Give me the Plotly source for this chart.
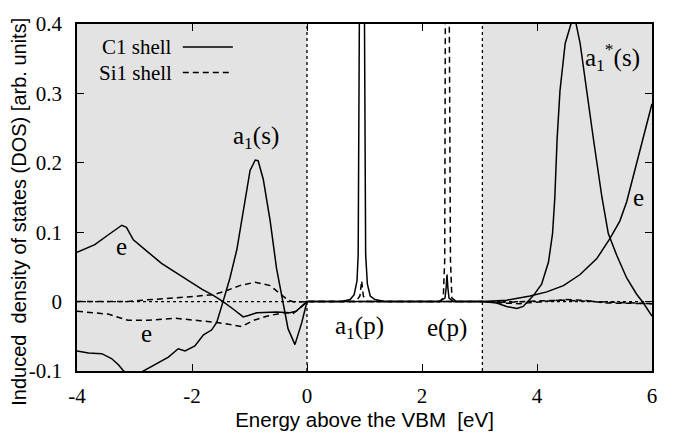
import plotly.graph_objects as go

# ---------------- data ----------------
# C1 shell, a1-symmetry curve (solid)
c1_a1_x = [-4.00, -3.80, -3.57, -3.40, -3.28, -3.19, -3.02, -2.85, -2.64, -2.41, -2.24, -2.12,
           -1.95, -1.80, -1.66, -1.57, -1.46, -1.34, -1.22, -1.11, -0.99, -0.90, -0.85, -0.76,
           -0.64, -0.53, -0.44, -0.33, -0.21, -0.09, 0.00,
           0.60, 0.75, 0.82, 0.87, 0.89, 0.91, 0.955, 1.00, 1.02, 1.05, 1.10, 1.18, 1.35,
           3.05, 3.30, 3.47, 3.65, 3.76, 3.94, 4.08, 4.20, 4.27, 4.31, 4.35, 4.40, 4.49,
           4.59, 4.635, 4.68, 4.75, 4.86, 4.98, 5.13, 5.24, 5.39, 5.56, 5.73, 5.85, 6.00]
c1_a1_y = [-0.071, -0.074, -0.075, -0.082, -0.091, -0.100, -0.108, -0.100, -0.091, -0.080, -0.068, -0.071,
           -0.064, -0.048, -0.041, -0.030, 0.000, 0.034, 0.075, 0.130, 0.189, 0.204, 0.203, 0.176,
           0.116, 0.048, 0.007, -0.039, -0.062, -0.030, 0.000,
           0.000, 0.003, 0.010, 0.030, 0.068, 0.400, 1.500, 0.400, 0.068, 0.025, 0.008, 0.003, 0.000,
           0.000, -0.002, -0.007, -0.010, -0.007, 0.009, 0.025, 0.057, 0.098, 0.150, 0.235, 0.304, 0.372,
           0.400, 0.430, 0.400, 0.372, 0.304, 0.235, 0.150, 0.098, 0.066, 0.034, 0.011, -0.002, -0.021]

# C1 shell, e-symmetry curve (solid)
c1_e_x = [-4.00, -3.69, -3.46, -3.22, -3.14, -3.02, -2.76, -2.53, -2.30, -2.06, -1.83, -1.63,
          -1.46, -1.28, -1.11, -1.02, -0.87, -0.53, -0.30, -0.19, 0.00,
          2.30, 2.40, 2.42, 2.435, 2.45, 2.47, 2.55,
          3.05, 3.47, 3.88, 4.17, 4.46, 4.75, 5.04, 5.27, 5.44, 5.56, 5.67, 5.85, 6.00]
c1_e_y = [0.071, 0.082, 0.096, 0.110, 0.107, 0.089, 0.071, 0.055, 0.043, 0.030, 0.018, 0.009,
          0.000, -0.011, -0.022, -0.020, -0.016, -0.015, -0.016, -0.014, 0.000,
          0.000, 0.005, 0.020, 0.039, 0.020, 0.005, 0.000,
          0.000, 0.002, 0.008, 0.014, 0.023, 0.039, 0.062, 0.091, 0.116, 0.144, 0.180, 0.235, 0.285]

# Si1 shell, a1-symmetry curve (dashed)
si_a1_x = [-4.00, -3.11, -2.87, -2.30, -2.03, -1.63, -1.46, -1.17, -0.90, -0.64, -0.47, -0.33,
           -0.21, 0.00, 0.85, 0.92, 0.95, 0.98, 1.05,
           3.05, 3.40, 3.70, 4.10, 4.50, 4.80, 5.20, 6.00]
si_a1_y = [0.000, 0.000, 0.002, 0.005, 0.007, 0.010, 0.014, 0.023, 0.028, 0.023, 0.011, 0.002,
           -0.001, 0.000, 0.000, 0.008, 0.030, 0.008, 0.000,
           0.000, -0.002, -0.003, 0.000, 0.003, 0.002, -0.002, -0.003]

# Si1 shell, e-symmetry curve (dashed)
si_e_x = [-4.00, -3.46, -3.11, -2.76, -2.30, -2.03, -1.57, -1.34, -1.14, -0.93, -0.70, -0.41,
          -0.24, -0.13, 0.00,
          2.30, 2.37, 2.395, 2.405, 2.44, 2.475, 2.495, 2.52, 2.60,
          3.05, 3.50, 4.00, 4.50, 5.00, 5.50, 6.00]
si_e_y = [-0.014, -0.018, -0.027, -0.027, -0.024, -0.026, -0.030, -0.033, -0.036, -0.027, -0.021, -0.016,
          -0.017, -0.010, 0.000,
          0.000, 0.005, 0.060, 0.400, 1.500, 0.400, 0.060, 0.005, 0.000,
          0.000, -0.001, 0.001, 0.002, 0.000, -0.002, -0.003]

VBM = 0.0
CBM = 3.05
x_range = [-4, 6]
y_range = [-0.1, 0.4]
x_ticks = [-4, -2, 0, 2, 4, 6]
x_ticklabels = ["-4", "-2", "0", "2", "4", "6"]
y_ticks = [-0.1, 0, 0.1, 0.2, 0.3, 0.4]
y_ticklabels = ["-0.1", "0", "0.1", "0.2", "0.3", "0.4"]

series_names = ["C1 shell", "Si1 shell"]

# peak labels: (text, x, y)
labels = [
    ("a<sub>1</sub>(s)", -0.885, 0.236),
    ("a<sub>1</sub>(p)", 0.92, -0.038),
    ("e(p)", 2.43, -0.038),
    ("a<sub>1</sub><sup>*</sup>(s)", 5.32, 0.352),
    ("e", -3.22, 0.080),
    ("e", -2.79, -0.046),
    ("e", 5.76, 0.150),
]

# ---------------- figure ----------------
SERIF = "Liberation Serif, Times New Roman, serif"
SANS = "Liberation Sans, Arial, sans-serif"

fig = go.Figure()
solid = dict(color="black", width=1.5)
dashed = dict(color="black", width=1.5, dash="6px,4px")

fig.add_trace(go.Scatter(x=c1_a1_x, y=c1_a1_y, mode="lines", line=solid,
                         name=series_names[0], legendgroup="c1", showlegend=False))
fig.add_trace(go.Scatter(x=c1_e_x, y=c1_e_y, mode="lines", line=solid,
                         name=series_names[0], legendgroup="c1", showlegend=False))
fig.add_trace(go.Scatter(x=si_a1_x, y=si_a1_y, mode="lines", line=dashed,
                         name=series_names[1], legendgroup="si", showlegend=False))
fig.add_trace(go.Scatter(x=si_e_x, y=si_e_y, mode="lines", line=dashed,
                         name=series_names[1], legendgroup="si", showlegend=False))

shapes = [
    dict(type="rect", xref="x", yref="y domain", x0=x_range[0], x1=VBM, y0=0, y1=1,
         fillcolor="#e3e3e3", line=dict(width=0), layer="below"),
    dict(type="rect", xref="x", yref="y domain", x0=CBM, x1=x_range[1], y0=0, y1=1,
         fillcolor="#e3e3e3", line=dict(width=0), layer="below"),
    dict(type="line", xref="x", yref="y domain", x0=VBM, x1=VBM, y0=0, y1=1,
         line=dict(color="black", width=1.3, dash="dot"), layer="below"),
    dict(type="line", xref="x", yref="y domain", x0=CBM, x1=CBM, y0=0, y1=1,
         line=dict(color="black", width=1.3, dash="dot"), layer="below"),
    dict(type="line", xref="x domain", yref="y", x0=0, x1=1, y0=0, y1=0,
         line=dict(color="black", width=1.3, dash="dot"), layer="below"),
    # legend samples
    dict(type="line", xref="paper", yref="paper", x0=0.184, x1=0.271, y0=0.934, y1=0.934,
         line=dict(color="black", width=1.5)),
    dict(type="line", xref="paper", yref="paper", x0=0.184, x1=0.271, y0=0.86, y1=0.86,
         line=dict(color="black", width=1.5, dash="6px,4px")),
]

annotations = []
for txt, ax_, ay_ in labels:
    annotations.append(dict(text=txt, x=ax_, y=ay_, xref="x", yref="y", showarrow=False,
                            font=dict(family=SERIF, size=25, color="black")))
# legend texts
annotations.append(dict(text=series_names[0], x=0.168, y=0.934, xref="paper", yref="paper",
                        xanchor="right", yanchor="middle", showarrow=False,
                        font=dict(family=SERIF, size=21, color="black")))
annotations.append(dict(text=series_names[1], x=0.168, y=0.86, xref="paper", yref="paper",
                        xanchor="right", yanchor="middle", showarrow=False,
                        font=dict(family=SERIF, size=21, color="black")))
# y axis title
annotations.append(dict(text="Induced  density of states (DOS) [arb. units]",
                        x=-0.1, y=0.4575, xref="paper", yref="paper", textangle=-90,
                        xanchor="center", yanchor="middle", showarrow=False,
                        font=dict(family=SANS, size=20, color="black")))

axis_common = dict(showline=True, linecolor="black", linewidth=1.5, mirror="ticks",
                   ticks="inside", ticklen=7, tickwidth=1.3, tickcolor="black",
                   showgrid=False, zeroline=False,
                   tickfont=dict(family=SERIF, size=21, color="black"))

fig.update_layout(
    width=673, height=436,
    margin=dict(l=77, r=21, t=13, b=58),
    paper_bgcolor="white", plot_bgcolor="white",
    shapes=shapes, annotations=annotations, showlegend=False,
    xaxis=dict(range=x_range, tickvals=x_ticks, ticktext=x_ticklabels,
               title=dict(text="Energy above the VBM  [eV]", standoff=2,
                          font=dict(family=SANS, size=20.5, color="black")),
               ticklabelstandoff=5, **axis_common),
    yaxis=dict(range=y_range, tickvals=y_ticks, ticktext=y_ticklabels,
               ticklabelstandoff=9, **axis_common),
)

fig.write_html("out.html")
